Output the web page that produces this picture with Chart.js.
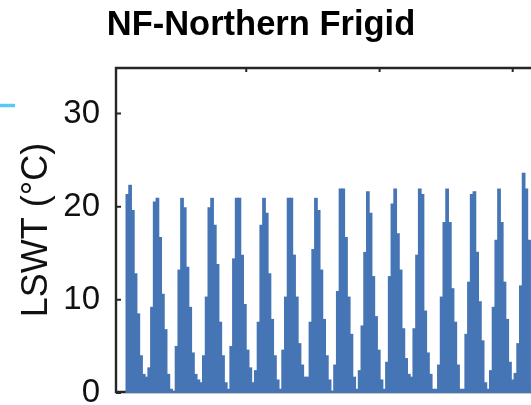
<!DOCTYPE html>
<html>
<head>
<meta charset="utf-8">
<title>NF-Northern Frigid</title>
<script src="https://cdn.jsdelivr.net/npm/chart.js@4.4.1/dist/chart.umd.min.js"></script>
<style>
  html, body { margin: 0; padding: 0; background: #fff; overflow: hidden; }
  #wrap { position: relative; width: 531px; height: 405px; }
</style>
</head>
<body>
<div id="wrap"><canvas id="lswtChart" width="531" height="405"></canvas></div>
<script>
/* === DADOS: temperatura da superficie do lago (LSWT, °C) por amostra === */
const lswtA = [
  21.3, 22.3, 19.6, 12.8, 8.5, 4.0, 2.0, 1.7, 2.7, 9.2,
  20.5, 20.9, 16.7, 10.6, 6.8, 2.0, 0.4, 0.15, 5.0, 13.2,
  20.9, 19.9, 13.5, 9.2, 4.3, 2.0, 1.4, 1.1, 4.0, 10.3,
  19.9, 20.9, 18.0, 13.8, 7.6, 4.0, 1.1, 0.4, 5.0, 14.4,
  20.9, 20.9, 14.8, 9.5, 4.6, 2.7, 1.1, 2.4, 7.6, 18.0,
  20.9, 19.3, 12.8, 7.9, 4.0, 1.4, 0.4, 4.6, 10.3, 20.9,
  20.9, 14.8, 10.3, 5.3, 3.0, 1.7, 1.7, 7.6, 15.4, 20.9,
  19.6
];
const lswtB = [
  13.2, 7.9, 4.0, 1.4, 0.15, 3.0, 10.9, 21.9, 21.9, 16.7,
  10.3, 6.3, 1.7, 0.4, 2.4, 7.2, 15.1, 21.6, 19.3, 12.5,
  8.2, 4.6, 1.4, 0.4, 3.3, 12.5, 20.3, 21.9, 17.1, 13.2,
  6.9, 3.7, 2.0, 1.7, 6.9, 14.8, 21.9, 21.3, 8.8, 4.3,
  2.0, 0.4, 0.4, 3.0, 10.3, 18.3, 21.9, 18.3, 11.2, 7.6,
  3.0, 0.4, 0.4, 6.3, 11.9, 21.3, 21.6, 15.1, 9.8, 5.6,
  1.1, 0.4, 2.4, 9.2, 16.4, 21.9, 18.3, 11.9, 7.9, 3.3,
  1.4, 2.1, 5.3, 11.5, 23.6, 21.9, 16.4
];
const lswt = lswtA.concat(lswtB);
const samples = lswt.map((_, i) => i);

const yTicks = [0, 10, 20, 30];
const xTickAt = [43.5, 92.3, 141.0];   // marcas do eixo x (em amostras)
const titulo = 'NF-Northern Frigid';
const eixoY = 'LSWT (°C)';

const AZUL = '#4675b5';
const EIXO = '#262626';

/* === MOLDURA COM MARCAS PARA DENTRO === */
const moldura = {
  id: 'moldura',
  beforeDatasetsDraw(chart) {
    const { ctx, chartArea: a, scales: { x, y } } = chart;
    ctx.save();
    ctx.strokeStyle = EIXO;
    ctx.lineWidth = 2.4;
    ctx.beginPath();
    ctx.moveTo(a.right + 5, a.top + 1);
    ctx.lineTo(a.left, a.top + 1);
    ctx.lineTo(a.left, a.bottom - 1);
    ctx.lineTo(a.right + 5, a.bottom - 1);
    ctx.stroke();

    ctx.lineWidth = 2;
    ctx.beginPath();
    yTicks.forEach(v => {
      const py = y.getPixelForValue(v);
      ctx.moveTo(a.left, py);
      ctx.lineTo(a.left + 5, py);
    });
    xTickAt.forEach(v => {
      const px = x.getPixelForValue(v);
      ctx.moveTo(px, a.top + 1);
      ctx.lineTo(px, a.top + 5);
      ctx.moveTo(px, a.bottom - 1);
      ctx.lineTo(px, a.bottom - 5);
    });
    ctx.stroke();
    ctx.restore();
  },
  afterDraw(chart) {
    const { ctx } = chart;
    ctx.save();
    // titulo do painel
    ctx.fillStyle = '#000';
    ctx.font = 'bold 34.5px "Liberation Sans", Arial, sans-serif';
    ctx.textAlign = 'center';
    ctx.textBaseline = 'alphabetic';
    ctx.fillText(titulo, 261, 34.5);
    // ponta da linha da legenda do painel vizinho
    ctx.strokeStyle = '#5ac8f5';
    ctx.lineWidth = 3.5;
    ctx.beginPath();
    ctx.moveTo(0, 105.5);
    ctx.lineTo(15, 105.5);
    ctx.stroke();
    ctx.restore();
  }
};

/* === GRAFICO === */
const ctx = document.getElementById('lswtChart').getContext('2d');
new Chart(ctx, {
  type: 'bar',
  data: {
    labels: samples,
    datasets: [{
      label: 'LSWT',
      data: lswt,
      backgroundColor: AZUL,
      borderWidth: 0,
      barPercentage: 1,
      categoryPercentage: 1,
      inflateAmount: 0.5
    }]
  },
  options: {
    responsive: false,
    devicePixelRatio: 1,
    animation: false,
    layout: { padding: { top: 67, left: 0, right: 0, bottom: 0 } },
    plugins: {
      legend: { display: false },
      tooltip: { enabled: false }
    },
    scales: {
      x: {
        type: 'linear',
        offset: false,
        min: -4.16,
        max: 147.7,
        grid: { display: false, drawTicks: false },
        border: { display: false },
        ticks: { display: false },
        afterFit: s => { s.height = 12; s.paddingLeft = 0; s.paddingRight = 0; }
      },
      y: {
        min: 0,
        max: 35,
        afterBuildTicks: s => { s.ticks = yTicks.map(v => ({ value: v })); },
        grid: { display: false, drawTicks: false },
        border: { display: false },
        ticks: {
          color: '#111',
          padding: 16,
          font: { family: '"Liberation Sans", Arial, sans-serif', size: 33 }
        },
        title: {
          display: true,
          text: eixoY,
          color: '#111',
          padding: { top: 15, bottom: 0 },
          font: { family: '"Liberation Sans", Arial, sans-serif', size: 36 }
        },
        afterFit: s => { s.width = 116; s.paddingTop = 0; s.paddingBottom = 0; }
      }
    }
  },
  plugins: [moldura]
});
</script>
</body>
</html>
